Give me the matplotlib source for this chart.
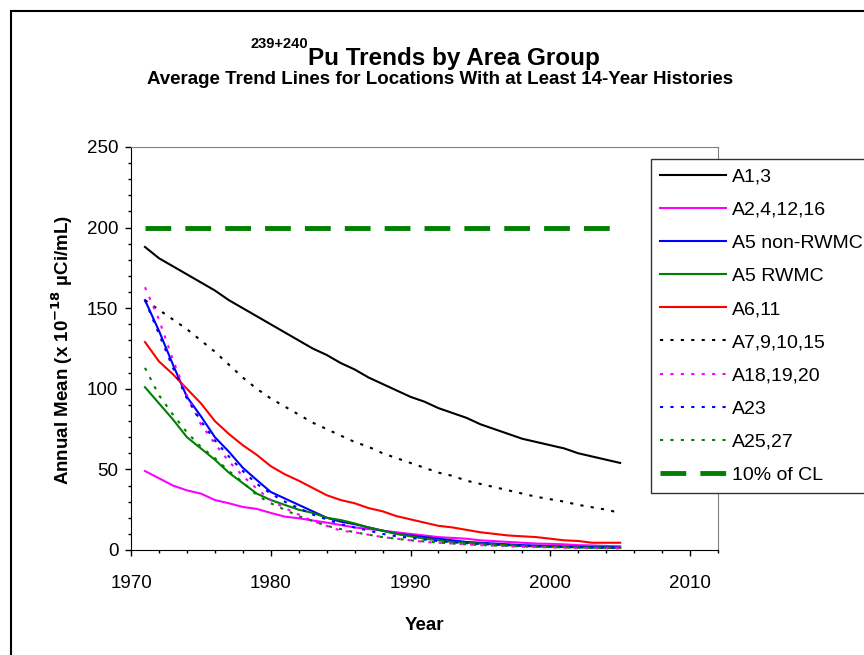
import matplotlib
matplotlib.use('Agg')
import matplotlib.pyplot as plt
from matplotlib.patches import Rectangle
from matplotlib.ticker import MultipleLocator

plt.rcParams['font.family'] = ['Liberation Sans', 'DejaVu Sans']

# data
years = list(range(1971, 2006))
a1_3 = [188, 181, 176, 171, 166, 161, 155, 150, 145, 140, 135, 130, 125, 121, 116, 112, 107, 103,
        99, 95, 92, 88, 85, 82, 78, 75, 72, 69, 67, 65, 63, 60, 58, 56, 54]
a2_4_12_16 = [49, 44.5, 40, 37, 35, 31, 29, 26.7, 25.5, 23, 20.7, 19.7, 18.3, 17, 15.5, 14, 13, 12,
              11, 10, 9, 8, 7.5, 7, 6, 5.5, 5, 4.5, 4, 3.8, 3.5, 3, 2.8, 2.5, 2.3]
a5_non_rwmc = [155, 136, 115, 95, 83, 70, 61, 51, 43.4, 36, 32, 28, 24, 20, 17.6, 16, 14, 12,
               10, 9, 8, 7, 6, 5, 4.5, 4, 3.5, 3, 2.7, 2.4, 2.2, 2, 1.8, 1.7, 1.5]
a5_rwmc = [101, 91, 81, 70, 63, 56, 48, 41.5, 35, 31, 28, 25, 23, 20, 18.6, 16.5, 14, 12,
           10, 8.5, 7, 6, 5, 4.5, 4, 3.5, 3, 2.5, 2.2, 2, 1.8, 1.6, 1.5, 1.4, 1.3]
a6_11 = [129, 117, 109, 100, 91, 80, 72, 65, 59, 52, 47, 43, 38.5, 34, 31, 29, 26, 24,
         21, 19, 17, 15, 14, 12.5, 11, 10, 9, 8.5, 8, 7, 6, 5.6, 4.5, 4.5, 4.5]
a7_9_10_15 = [155, 149, 143, 137, 130, 123, 115, 107, 100, 94, 89, 84, 79, 75, 71, 67, 64, 60,
              57, 54, 51, 48, 46, 43, 41, 39, 37, 35, 33, 31.5, 30, 28, 26.5, 25, 23]
a18_19_20 = [163, 143, 118, 96, 78, 66, 55, 46, 38, 31, 26, 22, 18, 15, 12, 11, 9.5, 8,
             7, 6, 5, 4.5, 4, 3.5, 3, 2.6, 2.3, 2, 1.8, 1.6, 1.4, 1.3, 1.2, 1.1, 1]
a23 = [155, 134, 113, 94, 80, 68, 58, 49, 41, 35, 30, 26, 22, 19, 16, 14, 12, 10,
       8.5, 7.5, 6.5, 5.5, 4.8, 4.2, 3.7, 3.3, 3, 2.7, 2.4, 2.2, 2, 1.8, 1.6, 1.5, 1.4]
a25_27 = [113, 96, 84, 73, 64, 57, 49, 42, 34, 29, 25, 21, 18, 15, 13, 11, 9.5, 8,
          7, 6, 5.3, 4.6, 4, 3.5, 3.1, 2.8, 2.5, 2.2, 2, 1.8, 1.6, 1.5, 1.4, 1.3, 1.2]
cl_years = [1971, 2005]
cl_values = [200, 200]

fig = plt.figure(figsize=(8.64, 6.55), dpi=100)
ax = fig.add_axes([131 / 864, 105 / 655, 587 / 864, 403 / 655])

dot = (0, (1.5, 3.5))
ax.plot(years, a1_3, color='black', lw=1.5, label='A1,3')
ax.plot(years, a2_4_12_16, color='#ff00ff', lw=1.5, label='A2,4,12,16')
ax.plot(years, a5_non_rwmc, color='#0000ff', lw=1.5, label='A5 non-RWMC')
ax.plot(years, a5_rwmc, color='#008000', lw=1.5, label='A5 RWMC')
ax.plot(years, a6_11, color='#ff0000', lw=1.5, label='A6,11')
ax.plot(years, a7_9_10_15, color='black', lw=1.5, ls=dot, label='A7,9,10,15')
ax.plot(years, a18_19_20, color='#ff00ff', lw=1.5, ls=dot, label='A18,19,20')
ax.plot(years, a23, color='#0000ff', lw=1.5, ls=dot, label='A23')
ax.plot(years, a25_27, color='#008000', lw=1.5, ls=dot, label='A25,27')
ax.plot(cl_years, cl_values, color='#008000', lw=3.5, ls=(0, (5.3, 2.9)), label='10% of CL')

ax.set_xlim(1970, 2012)
ax.set_ylim(0, 250)
ax.xaxis.set_major_locator(MultipleLocator(10))
ax.xaxis.set_minor_locator(MultipleLocator(2))
ax.yaxis.set_major_locator(MultipleLocator(50))
ax.yaxis.set_minor_locator(MultipleLocator(10))
ax.tick_params(axis='both', which='major', length=4, width=1, labelsize=13.5, colors='black')
ax.tick_params(axis='both', which='minor', length=2.5, width=1)
ax.tick_params(axis='x', which='major', pad=14)
ax.tick_params(axis='y', which='major', pad=5)
for side in ['top', 'right']:
    ax.spines[side].set_color('#808080')
for side in ['left', 'bottom']:
    ax.spines[side].set_color('black')

# legend frame runs off the right edge, as in the original
leg = fig.legend(loc='upper left', bbox_to_anchor=(651 / 864, 1 - 159 / 655), fontsize=14,
                 handlelength=3.4, handletextpad=0.3, labelspacing=0.8, borderpad=0.45,
                 borderaxespad=0, fancybox=False, framealpha=1, edgecolor='#333333')
leg.get_frame().set_linewidth(1)

# titles
fig.text(308 / 864, 1 - 65 / 655, 'Pu Trends by Area Group', fontsize=17.5, fontweight='bold',
         ha='left', va='baseline')
fig.text(308 / 864, 1 - 48 / 655, '239+240', fontsize=10.5, fontweight='bold',
         ha='right', va='baseline')
fig.text(440 / 864, 1 - 84 / 655, 'Average Trend Lines for Locations With at Least 14-Year Histories',
         fontsize=13.5, fontweight='bold', ha='center', va='baseline')
fig.text(62 / 864, 1 - 350 / 655, 'Annual Mean (x 10$^{\\mathbf{-18}}$ µCi/mL)', fontsize=13.5,
         fontweight='bold', rotation=90, ha='center', va='center')
fig.text(424 / 864, 1 - 626 / 655, 'Year', fontsize=13.5, fontweight='bold', ha='center', va='center')

# outer chart border
fig.patches.append(Rectangle((11 / 864, -0.1), 1.2, 1 - 11 / 655 + 0.1, transform=fig.transFigure,
                             fill=False, edgecolor='black', lw=1.5))

fig.savefig('out.png', dpi=100)
